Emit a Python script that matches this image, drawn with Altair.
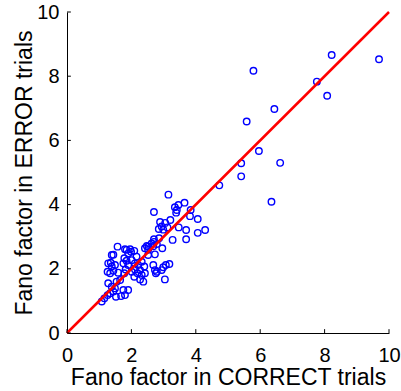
import altair as alt
import pandas as pd

# Fano factor in CORRECT trials (x) and in ERROR trials (y)
fc_correct = [
    8.22, 9.69, 5.79, 7.76, 8.08, 6.44, 5.58, 5.96, 5.41, 6.62, 5.41, 4.73, 6.35,
    3.15, 2.70, 3.35, 3.46, 3.41, 3.39, 3.65, 3.84, 3.82, 4.06, 3.47, 3.70, 4.06,
    4.29, 3.70, 3.28, 2.96, 2.70, 2.89, 3.05, 3.21, 3.12, 2.85, 2.99, 2.94, 2.70,
    2.86, 2.63, 2.53, 1.57, 1.80, 1.96, 2.68, 2.73, 2.76, 2.99, 3.07, 3.18, 3.04,
    1.85, 1.90, 1.99, 2.09, 2.16, 2.48, 2.52, 2.79, 1.39, 1.78, 1.85, 1.75, 1.90,
    1.82, 1.78, 2.01, 2.11, 2.21, 2.32, 2.40, 2.27, 2.11, 2.01, 2.19, 2.32, 2.42,
    2.09, 2.27, 2.37, 1.28, 1.39, 1.49, 1.26, 1.34, 1.59, 1.28, 1.39, 1.54, 1.65,
    1.49, 1.75, 1.90, 1.68, 1.80, 2.68, 2.79, 2.94, 1.08, 1.16, 1.26, 1.34, 1.44,
    1.44, 1.36, 1.44, 2.42, 2.52, 2.73, 1.52,
]
fc_error = [
    8.66, 8.53, 8.17, 7.83, 7.39, 6.98, 6.59, 5.67, 5.29, 5.30, 4.88, 4.60, 4.09,
    4.31, 3.77, 3.92, 3.99, 3.83, 3.75, 4.06, 3.83, 3.64, 3.55, 3.29, 3.21, 3.12,
    3.21, 2.92, 2.90, 2.64, 2.92, 3.46, 3.43, 3.52, 3.29, 3.24, 3.22, 3.32, 2.84,
    2.95, 2.79, 2.69, 2.69, 2.61, 2.61, 2.70, 1.96, 1.86, 2.05, 2.12, 2.15, 1.67,
    2.59, 2.48, 2.53, 2.56, 2.38, 2.71, 2.59, 2.77, 2.43, 2.33, 2.25, 2.17, 2.12,
    1.98, 1.86, 2.27, 2.17, 2.12, 2.22, 2.07, 1.96, 1.98, 1.91, 1.86, 1.81, 1.86,
    1.75, 1.67, 1.60, 2.17, 2.07, 2.12, 1.91, 1.86, 1.88, 1.55, 1.44, 1.60, 1.65,
    1.39, 1.34, 1.34, 1.15, 1.18, 2.12, 1.91, 1.96, 0.98, 1.08, 1.18, 1.24, 1.29,
    2.44, 2.19, 1.94, 2.64, 2.43, 2.45, 1.13,
]
diag = [0, 10]
tick_vals = [0, 2, 4, 6, 8, 10]

pts = pd.DataFrame({"c": fc_correct, "e": fc_error})
line_df = pd.DataFrame({"c": diag, "e": diag})
xt_df = pd.DataFrame({"c": tick_vals})
yt_df = pd.DataFrame({"e": tick_vals})

FONT = "Liberation Sans"
xscale = alt.Scale(domain=[0, 10], nice=False, zero=False)
yscale = alt.Scale(domain=[0, 10], nice=False, zero=False)

xaxis = alt.Axis(values=tick_vals, title="Fano factor in CORRECT trials", grid=False,
                 ticks=False, tickSize=0, labelPadding=12, labelFontSize=20,
                 titleFontSize=23, titleY=51, titleBaseline="alphabetic",
                 labelFlush=False)
yaxis = alt.Axis(values=tick_vals, title="Fano factor in ERROR trials", grid=False,
                 ticks=False, tickSize=0, labelPadding=8, labelFontSize=20,
                 titleFontSize=23, titleX=-36, titleBaseline="alphabetic",
                 labelFlush=False)

X = alt.X("c:Q", scale=xscale, axis=xaxis)
Y = alt.Y("e:Q", scale=yscale, axis=yaxis)

points = alt.Chart(pts).mark_point(
    shape="circle", filled=False, color="#0000ff", size=42, strokeWidth=1.4, opacity=1
).encode(x=X, y=Y)

line = alt.Chart(line_df).mark_line(color="#ff0000", strokeWidth=2.5).encode(x=X, y=Y)

xticks = alt.Chart(xt_df).mark_rule(color="black", strokeWidth=1).encode(
    x=X, y=alt.datum(0), y2=alt.datum(0.12)
)
yticks = alt.Chart(yt_df).mark_rule(color="black", strokeWidth=1).encode(
    y=Y, x=alt.datum(0), x2=alt.datum(0.12)
)

chart = alt.layer(points, line, xticks, yticks).properties(
    width=322, height=321,
    autosize=alt.AutoSizeParams(type="none"),
    padding={"left": 67, "top": 12, "right": 12, "bottom": 58},
    background="white",
).configure_view(stroke=None).configure_axis(
    labelFont=FONT, titleFont=FONT, labelColor="black", titleColor="black",
    titleFontWeight="normal", domainColor="black", domainWidth=1,
)

chart.save("out.html", embed_options={"renderer": "svg", "actions": False})
